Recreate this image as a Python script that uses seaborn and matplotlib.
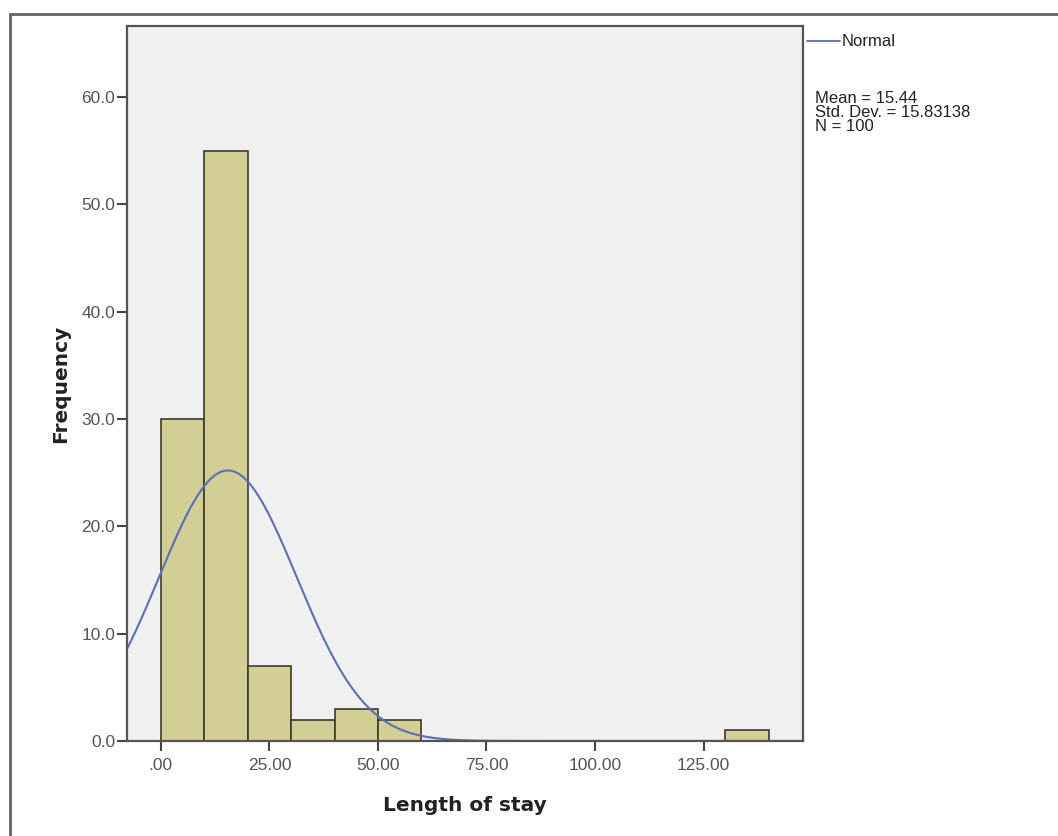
import numpy as np
import pandas as pd
import matplotlib
matplotlib.use("Agg")
import matplotlib.pyplot as plt
import seaborn as sns

# histogram of length of stay, bin width 10
bin_left = [0, 10, 20, 30, 40, 50, 130]
counts = [30, 55, 7, 2, 3, 2, 1]
bin_width = 10

# summary statistics shown in the legend
mean_stay = 15.44
sd_stay = 15.83138
n_total = 100

x_ticks = [0, 25, 50, 75, 100, 125]
x_tick_labels = [".00", "25.00", "50.00", "75.00", "100.00", "125.00"]
y_ticks = [0, 10, 20, 30, 40, 50, 60]
y_tick_labels = ["0.0", "10.0", "20.0", "30.0", "40.0", "50.0", "60.0"]

sns.set_style("white")
plt.rcParams["font.family"] = ["Liberation Sans", "DejaVu Sans"]

W, H = 1058, 836
fig = plt.figure(figsize=(W / 100, H / 100), dpi=100)
ax = fig.add_axes([127 / W, 1 - 741 / H, (803 - 127) / W, (741 - 26) / H])
ax.set_facecolor("#f0f0f0")

df = pd.DataFrame({"stay": [b + bin_width / 2 for b in bin_left], "n": counts})
sns.histplot(data=df, x="stay", weights="n", binwidth=bin_width, binrange=(0, 140),
             color="#d3ce96", edgecolor="#3a3a2a", linewidth=1.2, alpha=1, ax=ax)
for p in list(ax.patches):
    if p.get_height() == 0:
        p.remove()

# fitted normal curve, scaled to counts
xs = np.linspace(-8, 148, 400)
ys = n_total * bin_width / (sd_stay * np.sqrt(2 * np.pi)) * np.exp(-0.5 * ((xs - mean_stay) / sd_stay) ** 2)
sns.lineplot(x=xs, y=ys, color="#5b6fb4", linewidth=1.5, ax=ax)

ax.set_xlim(-7.8, 147.9)
ax.set_ylim(0, 66.6)
ax.set_xticks(x_ticks)
ax.set_xticklabels(x_tick_labels)
ax.set_yticks(y_ticks)
ax.set_yticklabels(y_tick_labels)
ax.tick_params(axis="x", direction="out", length=7.5, width=1.5, colors="#444444",
               labelsize=12.5, labelcolor="#555555", pad=5, bottom=True)
ax.tick_params(axis="y", direction="out", length=7.5, width=1.5, colors="#444444",
               labelsize=12.5, labelcolor="#555555", pad=1, left=True)
for s in ax.spines.values():
    s.set_color("#555555")
    s.set_linewidth(1.6)

ax.set_xlabel("Length of stay", fontsize=14.5, fontweight="bold", color="#222222",
              family="DejaVu Sans", labelpad=16)
ax.set_ylabel("Frequency", fontsize=14.5, fontweight="bold", color="#222222",
              family="DejaVu Sans", labelpad=8)

# legend-like annotations at the right
fig.add_artist(plt.Line2D([807 / W, 840 / W], [1 - 41 / H, 1 - 41 / H],
                          color="#5b6fb4", linewidth=1.3))
fig.text(842 / W, 1 - 41 / H, "Normal", fontsize=12, color="#222222", va="center")
fig.text(815 / W, 1 - 91 / H,
         "Mean = {:.2f}\nStd. Dev. = {:.5f}\nN = {}".format(mean_stay, sd_stay, n_total),
         fontsize=12, color="#222222", va="top", linespacing=0.92)

# outer frame (left and top edges visible)
fig.add_artist(plt.Line2D([10 / W, 10 / W], [0, 1 - 14 / H], color="#666666", linewidth=2))
fig.add_artist(plt.Line2D([10 / W, 1], [1 - 14 / H, 1 - 14 / H], color="#666666", linewidth=2))

fig.savefig("out.png", dpi=100)
